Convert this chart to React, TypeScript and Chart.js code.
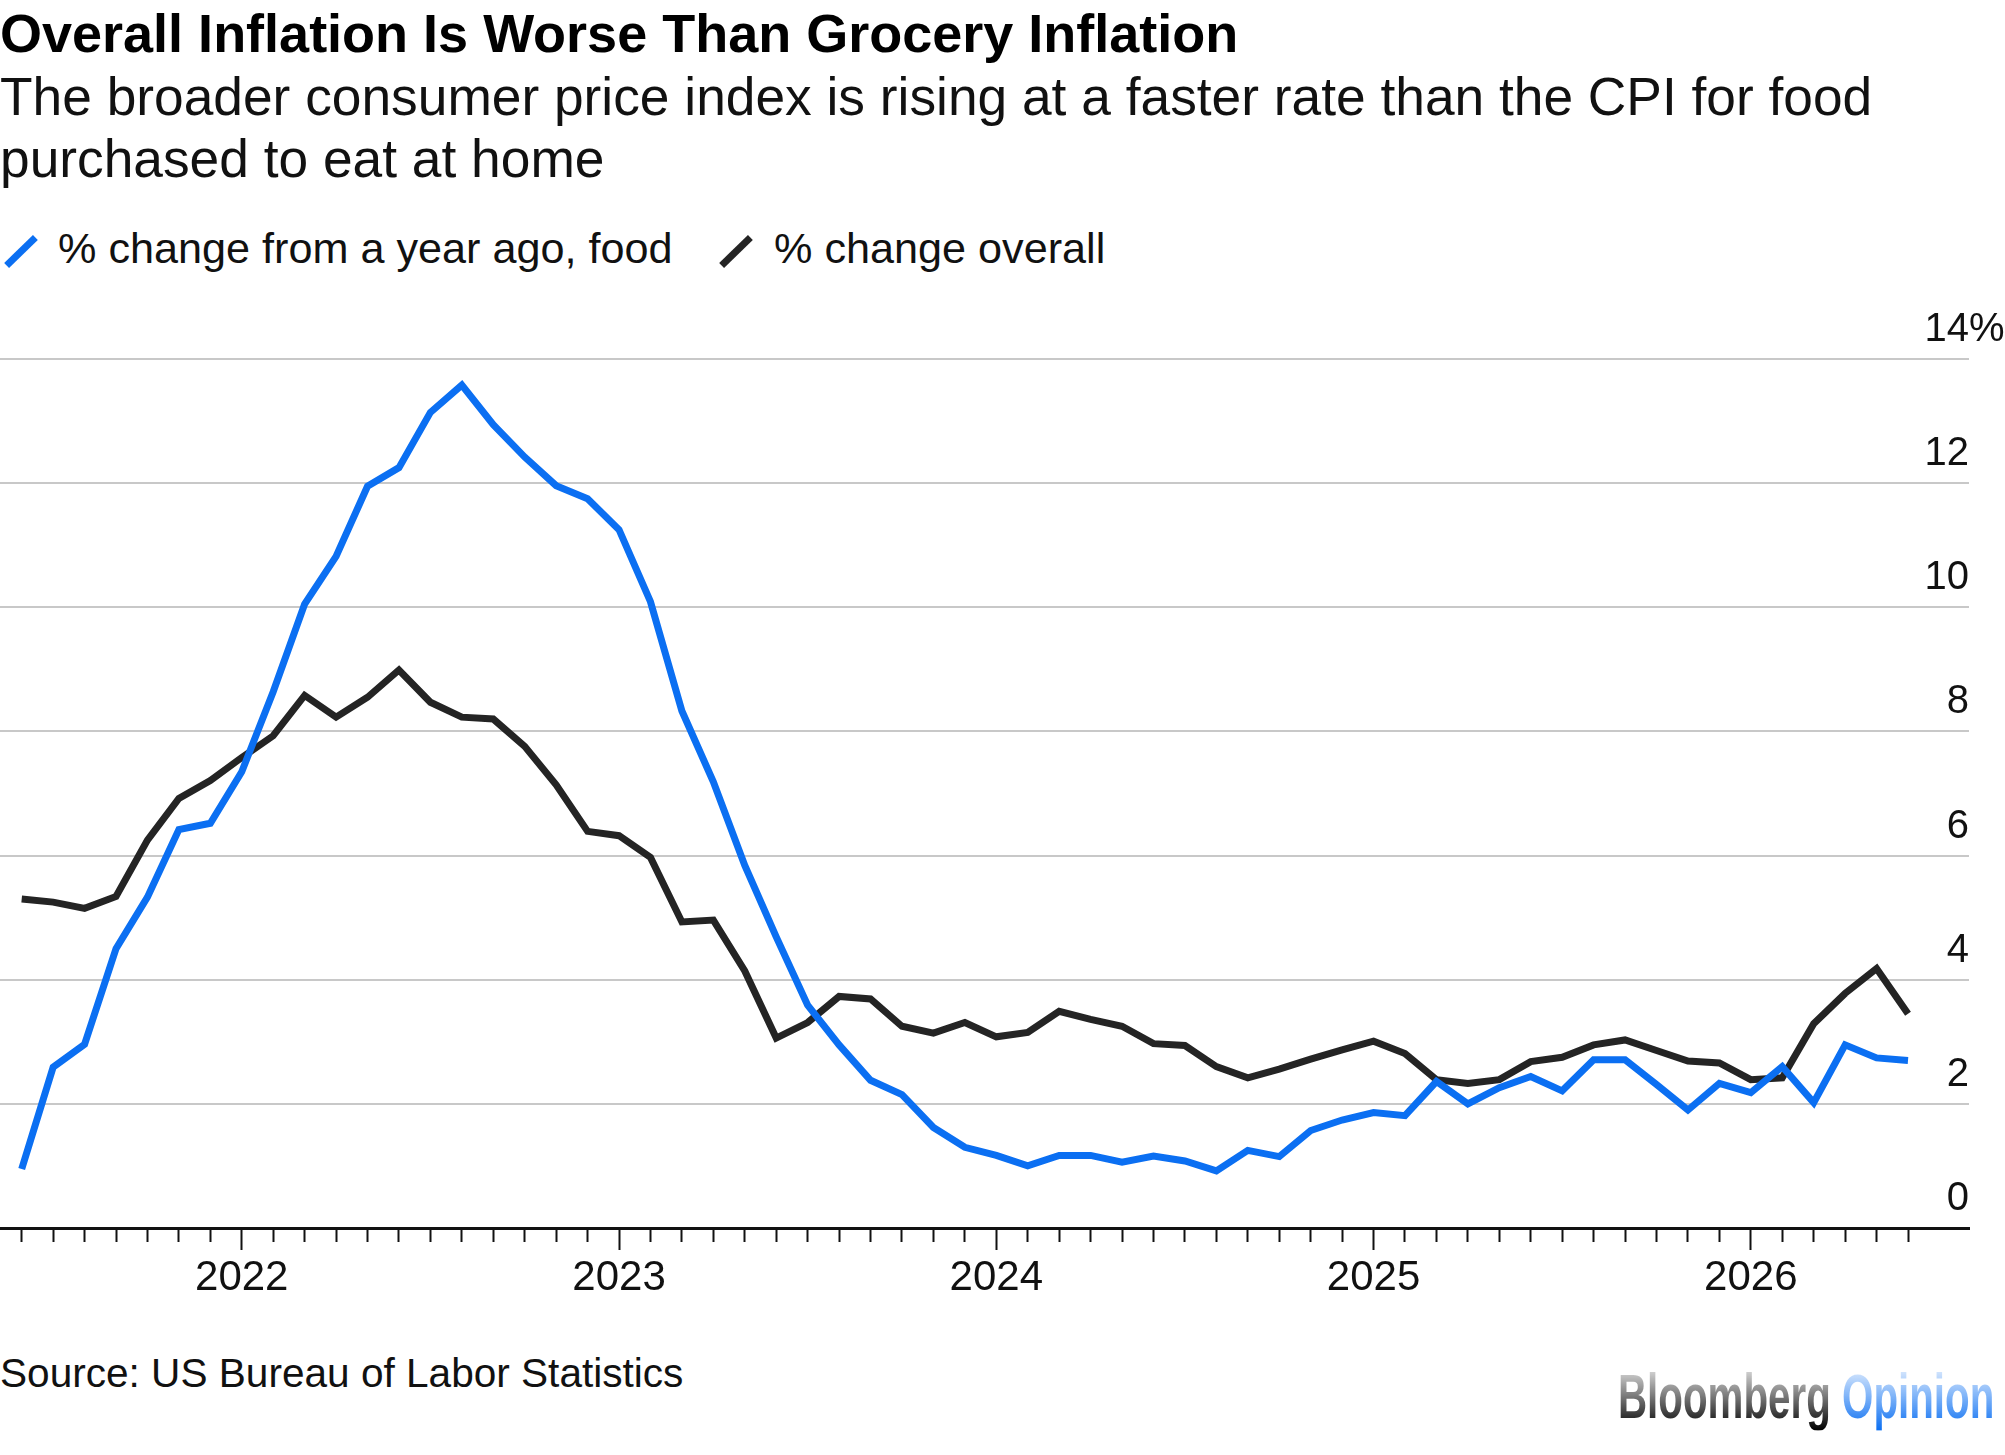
import React, { useEffect, useRef } from 'react';
import { Chart, registerables } from 'chart.js';

Chart.register(...registerables);

const FONT = '"Liberation Sans", Arial, Helvetica, sans-serif';
const BLUE = '#0b6ff2';
const BLACK = '#242424';

const months = [
  '2021-06', '2021-07', '2021-08', '2021-09', '2021-10', '2021-11', '2021-12',
  '2022-01', '2022-02', '2022-03', '2022-04', '2022-05', '2022-06', '2022-07', '2022-08', '2022-09', '2022-10', '2022-11', '2022-12',
  '2023-01', '2023-02', '2023-03', '2023-04', '2023-05', '2023-06', '2023-07', '2023-08', '2023-09', '2023-10', '2023-11', '2023-12',
  '2024-01', '2024-02', '2024-03', '2024-04', '2024-05', '2024-06', '2024-07', '2024-08', '2024-09', '2024-10', '2024-11', '2024-12',
  '2025-01', '2025-02', '2025-03', '2025-04', '2025-05', '2025-06', '2025-07', '2025-08', '2025-09', '2025-10', '2025-11', '2025-12',
  '2026-01', '2026-02', '2026-03', '2026-04', '2026-05', '2026-06',
];

const foodValues = [
  0.95, 2.59, 2.96, 4.5, 5.33, 6.42, 6.52,
  7.35, 8.64, 10.05, 10.82, 11.95, 12.25, 13.14, 13.58, 12.94, 12.42, 11.96, 11.75,
  11.25, 10.09, 8.33, 7.19, 5.84, 4.69, 3.59, 2.95, 2.38, 2.15, 1.62, 1.3,
  1.17, 1.0, 1.17, 1.17, 1.06, 1.16, 1.08, 0.92, 1.25, 1.15, 1.57, 1.74,
  1.86, 1.81, 2.36, 2.0, 2.26, 2.44, 2.21, 2.71, 2.71, 2.31, 1.9, 2.33,
  2.18, 2.6, 2.02, 2.95, 2.74, 2.7,
];

const overallValues = [
  5.3, 5.25, 5.15, 5.34, 6.25, 6.92, 7.21,
  7.58, 7.93, 8.58, 8.23, 8.55, 8.99, 8.47, 8.23, 8.2, 7.76, 7.14, 6.39,
  6.32, 5.97, 4.93, 4.96, 4.14, 3.06, 3.31, 3.73, 3.69, 3.25, 3.14, 3.31,
  3.08, 3.15, 3.49, 3.36, 3.25, 2.97, 2.94, 2.6, 2.42, 2.56, 2.72, 2.87,
  3.01, 2.81, 2.39, 2.33, 2.39, 2.68, 2.75, 2.95, 3.03, 2.86, 2.69, 2.66,
  2.39, 2.42, 3.29, 3.78, 4.18, 3.45,
];

const yTicks = [0, 2, 4, 6, 8, 10, 12, 14];

const seriesLabels = ['% change from a year ago, food', '% change overall'];

const isJanuary = (v: number) => months[v] !== undefined && months[v].endsWith('-01');

const yLabelPlugin = {
  id: 'yLabelPlugin',
  afterDraw(chart: any) {
    const { ctx, chartArea, scales } = chart;
    const y = scales.y;
    ctx.save();
    ctx.font = `40px ${FONT}`;
    ctx.fillStyle = '#111';
    ctx.textBaseline = 'alphabetic';
    y.ticks.forEach((t: any) => {
      const py = y.getPixelForValue(t.value) - 18;
      ctx.textAlign = 'right';
      ctx.fillText(String(t.value), chartArea.right, py);
      if (t.value === yTicks[yTicks.length - 1]) {
        ctx.textAlign = 'left';
        ctx.fillText('%', chartArea.right, py);
      }
    });
    ctx.restore();
  },
};

function LegendMark({ color, left }: { color: string; left: number }) {
  return (
    <div
      style={{
        position: 'absolute',
        left: left - 20,
        top: 251 - 3.5,
        width: 40,
        height: 7,
        background: color,
        transform: 'rotate(-44deg)',
      }}
    />
  );
}

export default function App() {
  const canvasRef = useRef<HTMLCanvasElement | null>(null);

  useEffect(() => {
    const canvas = canvasRef.current;
    if (!canvas) return;
    const chart = new Chart(canvas, {
      type: 'line',
      data: {
        datasets: [
          {
            label: seriesLabels[0],
            data: foodValues.map((v, i) => ({ x: i, y: v })),
            borderColor: BLUE,
            backgroundColor: BLUE,
            borderWidth: 7,
            pointRadius: 0,
            tension: 0,
            borderJoinStyle: 'miter',
          },
          {
            label: seriesLabels[1],
            data: overallValues.map((v, i) => ({ x: i, y: v })),
            borderColor: BLACK,
            backgroundColor: BLACK,
            borderWidth: 7,
            pointRadius: 0,
            tension: 0,
            borderJoinStyle: 'miter',
          },
        ],
      },
      options: {
        animation: false,
        responsive: false,
        maintainAspectRatio: false,
        layout: { padding: { left: 0, right: 36, top: 59, bottom: 0 } },
        plugins: {
          legend: { display: false },
          tooltip: { enabled: false },
          title: { display: false },
        },
        scales: {
          x: {
            type: 'linear',
            min: -0.69,
            max: 61.94,
            afterBuildTicks: (s: any) => {
              s.ticks = months.map((_, i) => ({ value: i }));
            },
            afterFit: (s: any) => {
              s.height = 112;
            },
            grid: {
              drawOnChartArea: false,
              drawTicks: true,
              tickLength: 22,
              tickColor: '#111',
              tickWidth: 2,
              tickBorderDash: (ctx: any) => (ctx.tick && isJanuary(ctx.tick.value) ? [] : [12, 60]),
            },
            border: { display: true, color: '#111', width: 3 },
            ticks: {
              autoSkip: false,
              maxRotation: 0,
              minRotation: 0,
              padding: 3,
              color: '#111',
              font: { family: FONT, size: 42 },
              callback: (value: any) => (isJanuary(Number(value)) ? months[Number(value)].slice(0, 4) : ''),
            },
          },
          y: {
            position: 'right',
            min: 0,
            max: 14,
            afterBuildTicks: (s: any) => {
              s.ticks = yTicks.map((v) => ({ value: v }));
            },
            afterFit: (s: any) => {
              s.width = 0;
            },
            grid: {
              color: (ctx: any) => (ctx.tick && ctx.tick.value === 0 ? 'rgba(0,0,0,0)' : '#c8c8c8'),
              lineWidth: 2,
              drawTicks: false,
            },
            border: { display: false },
            ticks: { display: false },
          },
        },
      } as any,
      plugins: [yLabelPlugin],
    });
    return () => chart.destroy();
  }, []);

  const textBase: React.CSSProperties = {
    position: 'absolute',
    fontFamily: FONT,
    color: '#000',
    whiteSpace: 'nowrap',
    margin: 0,
  };

  return (
    <div style={{ position: 'absolute', left: 0, top: 0, width: 2005, height: 1455, background: '#fff', overflow: 'hidden' }}>
      <div style={{ ...textBase, left: 0, top: 6, fontSize: 54, lineHeight: '54px', fontWeight: 700, letterSpacing: 0 }}>
        Overall Inflation Is Worse Than Grocery Inflation
      </div>
      <div style={{ ...textBase, left: 0, top: 66, fontSize: 53.3, lineHeight: '62px', color: '#111' }}>
        The broader consumer price index is rising at a faster rate than the CPI for food
        <br />
        purchased to eat at home
      </div>
      <LegendMark color={BLUE} left={20.5} />
      <div style={{ ...textBase, left: 58, top: 227, fontSize: 43.2, lineHeight: '43px', color: '#111' }}>{seriesLabels[0]}</div>
      <LegendMark color={BLACK} left={735.5} />
      <div style={{ ...textBase, left: 774, top: 227, fontSize: 43.2, lineHeight: '43px', color: '#111' }}>{seriesLabels[1]}</div>

      <div style={{ position: 'absolute', left: 0, top: 300, width: 2005, height: 1040 }}>
        <canvas ref={canvasRef} width={2005} height={1040} style={{ width: 2005, height: 1040, display: 'block' }} />
      </div>

      <div style={{ ...textBase, left: 0, top: 1353, fontSize: 40.6, lineHeight: '40px', color: '#111' }}>
        Source: US Bureau of Labor Statistics
      </div>
      <div
        style={{
          ...textBase,
          left: 1618,
          top: 1380,
          fontSize: 48,
          lineHeight: '48px',
          fontWeight: 700,
          transform: 'scale(0.84, 1.3)',
          transformOrigin: 'left bottom',
        }}
      >
        <span
          style={{
            background: 'linear-gradient(to bottom, rgba(0,0,0,0.05), #000)',
            WebkitBackgroundClip: 'text',
            backgroundClip: 'text',
            color: 'transparent',
          }}
        >
          Bloomberg
        </span>{' '}
        <span
          style={{
            background: 'linear-gradient(to bottom, rgba(11,111,242,0.05), #0b6ff2)',
            WebkitBackgroundClip: 'text',
            backgroundClip: 'text',
            color: 'transparent',
          }}
        >
          Opinion
        </span>
      </div>
    </div>
  );
}
